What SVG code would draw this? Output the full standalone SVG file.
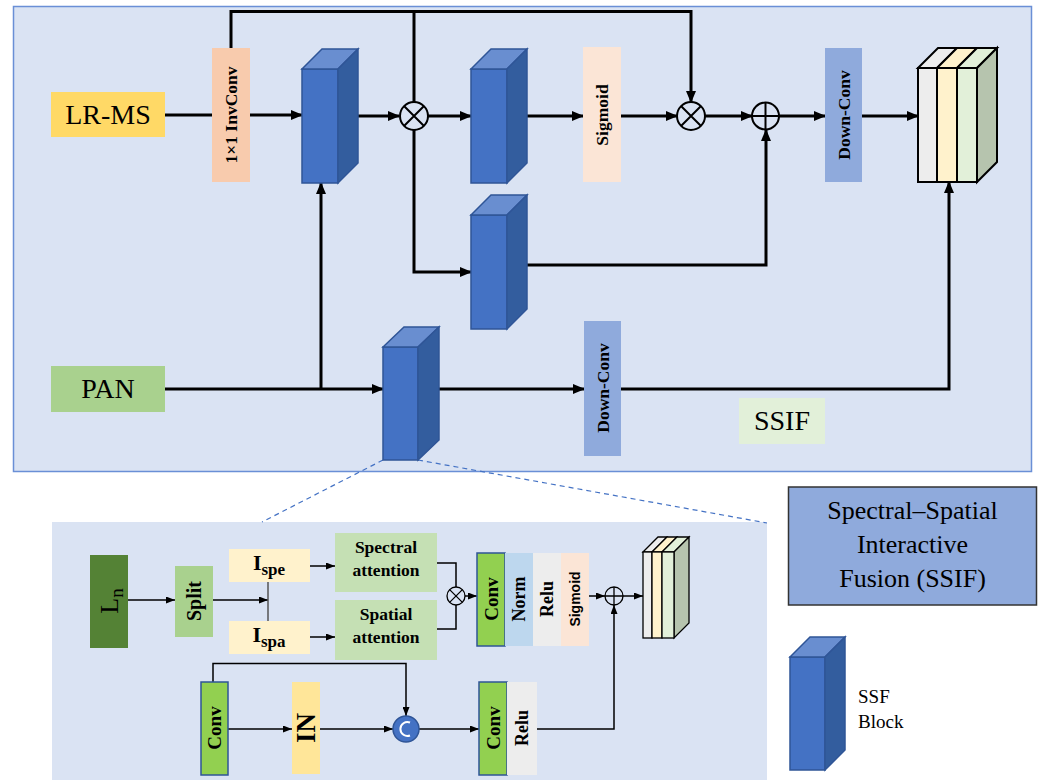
<svg xmlns="http://www.w3.org/2000/svg" width="1046" height="780" viewBox="0 0 1046 780" font-family="'Liberation Serif', 'Times New Roman', serif">
<defs>
<marker id="ah" markerWidth="12" markerHeight="10" refX="11" refY="5" orient="auto" markerUnits="userSpaceOnUse"><path d="M0,0 L12,5 L0,10 Z" fill="#000"/></marker>
<marker id="as" markerWidth="9" markerHeight="7" refX="9" refY="3.5" orient="auto" markerUnits="userSpaceOnUse"><path d="M0,0 L9,3.5 L0,7 Z" fill="#000"/></marker>
<style>
.t{fill:#000}
.b{font-weight:bold}
.rot{text-anchor:middle;dominant-baseline:central}
.fr{fill:#4472C4;stroke:#2F5597;stroke-width:1.5}
.tp{fill:#698ED0;stroke:#2F5597;stroke-width:1.5}
.sd{fill:#335D9E;stroke:#2F5597;stroke-width:1.5}
.thick{fill:none;stroke:#000;stroke-width:3}
.thin{fill:none;stroke:#000;stroke-width:1.5}
.sk{stroke:#000;stroke-width:2}
.sks{stroke:#000;stroke-width:1.3}
</style>
</defs>
<rect width="1046" height="780" fill="#fff"/>
<rect id="ssif-frame" x="13.5" y="6.5" width="1018" height="465" fill="#DAE3F3" stroke="#6A8FD6" stroke-width="1.5"/>
<rect id="ssf-panel" x="52" y="522" width="715" height="260" fill="#DAE3F3"/>
<g id="zoom-lines" stroke="#4472C4" stroke-width="1.2" stroke-dasharray="5,4" fill="none">
<line x1="383" y1="460" x2="262" y2="522"/>
<line x1="418" y1="460" x2="767" y2="523"/>
</g>

<g id="connectors">
<line class="thick" x1="165" y1="115" x2="212" y2="115"/>
<line class="thick" x1="250" y1="115" x2="302" y2="115" marker-end="url(#ah)"/>
<path class="thick" d="M231,48 V11.5 H691 V102" marker-end="url(#ah)"/>
<path class="thick" d="M414,11.5 V102"/>
<path class="thick" d="M414,130 V272 H471" marker-end="url(#ah)"/>
<line class="thick" x1="358" y1="116" x2="399" y2="116" marker-end="url(#ah)"/>
<line class="thick" x1="428" y1="116" x2="471" y2="116" marker-end="url(#ah)"/>
<line class="thick" x1="527" y1="116" x2="583" y2="116" marker-end="url(#ah)"/>
<line class="thick" x1="621" y1="116" x2="677" y2="116" marker-end="url(#ah)"/>
<line class="thick" x1="705" y1="116" x2="752" y2="116" marker-end="url(#ah)"/>
<line class="thick" x1="779" y1="116" x2="825" y2="116" marker-end="url(#ah)"/>
<line class="thick" x1="862" y1="116" x2="918" y2="116" marker-end="url(#ah)"/>
<path class="thick" d="M527,265 H766 V130" marker-end="url(#ah)"/>
<path class="thick" d="M165,389 H383" marker-end="url(#ah)"/>
<path class="thick" d="M321,389 V183" marker-end="url(#ah)"/>
<path class="thick" d="M439,389 H584" marker-end="url(#ah)"/>
<path class="thick" d="M621,389 H949 V182" marker-end="url(#ah)"/>

<line class="thin" x1="128" y1="600" x2="175" y2="600" marker-end="url(#as)"/>
<line class="thin" x1="213" y1="600" x2="268" y2="600" marker-end="url(#as)"/>
<line x1="268" y1="582" x2="268" y2="621" stroke="#555" stroke-width="1.5"/>
<line class="thin" x1="310" y1="566" x2="335" y2="566" marker-end="url(#as)"/>
<line class="thin" x1="310" y1="637" x2="335" y2="637" marker-end="url(#as)"/>
<path class="thin" d="M437,563 H456 V587"/>
<path class="thin" d="M437,629 H456 V605"/>
<line class="thin" x1="465" y1="596" x2="477" y2="596" marker-end="url(#as)"/>
<line class="thin" x1="589" y1="596" x2="605" y2="596" marker-end="url(#as)"/>
<line class="thin" x1="623" y1="596" x2="643" y2="596" marker-end="url(#as)"/>
<path class="thin" d="M213,682 V663.5 H406 V716" marker-end="url(#as)"/>
<line class="thin" x1="228" y1="729" x2="292" y2="729" marker-end="url(#as)"/>
<line class="thin" x1="320" y1="729" x2="393" y2="729" marker-end="url(#as)"/>
<line class="thin" x1="419" y1="729" x2="479" y2="729" marker-end="url(#as)"/>
<path class="thin" d="M537,729 H614 V605" marker-end="url(#as)"/>
</g>

<g id="lrms"><rect x="51" y="92" width="114" height="45" fill="#FFD966"/><text class="t" x="108" y="124" font-size="28" text-anchor="middle">LR-MS</text></g>
<g id="invconv"><rect x="212" y="48" width="38" height="134" fill="#F8CBAD"/><text class="t b rot" transform="translate(231,115) rotate(-90)" font-size="17.5">1×1 InvConv</text></g>
<g id="ssf1"><rect class="fr" x="302" y="69" width="36" height="114"/><polygon class="tp" points="302,69 322,49 358,49 338,69"/><polygon class="sd" points="338,69 358,49 358,163 338,183"/></g>
<g id="mul1"><circle cx="414" cy="116" r="14" fill="#DAE3F3" stroke="#000" stroke-width="2"/><path class="sk" d="M404,106 L424,126 M424,106 L404,126"/></g>
<g id="ssf2"><rect class="fr" x="471" y="69" width="36" height="114"/><polygon class="tp" points="471,69 491,49 527,49 507,69"/><polygon class="sd" points="507,69 527,49 527,163 507,183"/></g>
<g id="ssf3"><rect class="fr" x="471" y="215" width="36" height="114"/><polygon class="tp" points="471,215 491,195 527,195 507,215"/><polygon class="sd" points="507,215 527,195 527,309 507,329"/></g>
<g id="sigmoid1"><rect x="583" y="47" width="38" height="135" fill="#FBE5D6"/><text class="t b rot" transform="translate(602,115) rotate(-90)" font-size="17.5">Sigmoid</text></g>
<g id="mul2"><circle cx="691" cy="116" r="14" fill="#DAE3F3" stroke="#000" stroke-width="2"/><path class="sk" d="M681,106 L701,126 M701,106 L681,126"/></g>
<g id="add1"><circle cx="765.5" cy="116" r="13.5" fill="#DAE3F3" stroke="#000" stroke-width="2"/><path class="sk" d="M752,116 H779 M765.5,102.5 V129.5"/></g>
<g id="downconv1"><rect x="825" y="48" width="37" height="134" fill="#8FAADC"/><text class="t b rot" transform="translate(843.5,115) rotate(-90)" font-size="17.5">Down-Conv</text></g>
<g id="stack1" stroke="#000" stroke-width="2">
<polygon points="918,68 938,48 957,48 937,68" fill="#EDEDED"/>
<polygon points="937,68 957,48 977,48 957,68" fill="#FFF2CC"/>
<polygon points="957,68 977,48 997,48 977,68" fill="#E2F0D9"/>
<polygon points="977,68 997,48 997,162 977,182" fill="#B6C4AE"/>
<rect x="918" y="68" width="19" height="114" fill="#EDEDED"/>
<rect x="937" y="68" width="20" height="114" fill="#FFF2CC"/>
<rect x="957" y="68" width="20" height="114" fill="#E2F0D9"/>
</g>
<g id="pan"><rect x="51" y="366" width="114" height="46" fill="#A9D18E"/><text class="t" x="108" y="398" font-size="28" text-anchor="middle">PAN</text></g>
<g id="ssf4"><rect class="fr" x="383" y="347" width="35" height="113"/><polygon class="tp" points="383,347 404,327 439,327 418,347"/><polygon class="sd" points="418,347 439,327 439,440 418,460"/></g>
<g id="downconv2"><rect x="584" y="321" width="37" height="135" fill="#8FAADC"/><text class="t b rot" transform="translate(602.5,388) rotate(-90)" font-size="17.5">Down-Conv</text></g>
<g id="ssif-label"><rect x="739" y="398" width="86" height="46" fill="#E2F0D9"/><text class="t" x="782" y="430" font-size="28" text-anchor="middle">SSIF</text></g>

<g id="ln"><rect x="90" y="555" width="38" height="93" fill="#548235"/><text class="t rot" transform="translate(109,601) rotate(-90)" font-size="26">L<tspan font-size="19" dy="7">n</tspan></text></g>
<g id="split"><rect x="175" y="566" width="38" height="71" fill="#A9D18E"/><text class="t b rot" transform="translate(194,601) rotate(-90)" font-size="20">Split</text></g>
<g id="ispe"><rect x="229" y="549" width="81" height="33" fill="#FFF2CC"/><text class="t b" x="269" y="570" font-size="22" text-anchor="middle">I<tspan font-size="17" dy="5">spe</tspan></text></g>
<g id="ispa"><rect x="229" y="621" width="81" height="33" fill="#FFF2CC"/><text class="t b" x="269" y="642" font-size="22" text-anchor="middle">I<tspan font-size="17" dy="5">spa</tspan></text></g>
<g id="spectral"><rect x="335" y="533" width="102" height="59" fill="#C5E0B4"/><text class="t b" x="386" y="553" font-size="17.5" text-anchor="middle">Spectral</text><text class="t b" x="386" y="576" font-size="17.5" text-anchor="middle">attention</text></g>
<g id="spatial"><rect x="335" y="600" width="102" height="60" fill="#C5E0B4"/><text class="t b" x="386" y="620" font-size="17.5" text-anchor="middle">Spatial</text><text class="t b" x="386" y="643" font-size="17.5" text-anchor="middle">attention</text></g>
<g id="mul3"><circle cx="456" cy="596" r="9" fill="#DAE3F3" stroke="#000" stroke-width="1.3"/><path class="sks" d="M449.6,589.6 L462.4,602.4 M462.4,589.6 L449.6,602.4"/></g>
<g id="conv1"><rect x="477" y="553" width="28" height="93" fill="#92D050" stroke="#2F5597" stroke-width="1.5"/><text class="t b rot" transform="translate(491,599) rotate(-90)" font-size="19">Conv</text></g>
<g id="norm"><rect x="505" y="553" width="28" height="93" fill="#BDD7EE"/><text class="t b rot" transform="translate(519,599) rotate(-90)" font-size="18">Norm</text></g>
<g id="relu1"><rect x="533" y="553" width="28" height="93" fill="#EDEDED"/><text class="t b rot" transform="translate(547,599) rotate(-90)" font-size="18">Relu</text></g>
<g id="sigmoid2"><rect x="561" y="553" width="28" height="93" fill="#FBE5D6"/><text class="b rot" transform="translate(575,599) rotate(-90)" font-size="14" font-family="'Liberation Sans', Arial, sans-serif">Sigmoid</text></g>
<g id="add2"><circle cx="614" cy="596" r="9" fill="#DAE3F3" stroke="#000" stroke-width="1.3"/><path class="sks" d="M605,596 H623 M614,587 V605"/></g>
<g id="stack2" stroke="#000" stroke-width="1.3">
<polygon points="643,552 658,537 667,537 652,552" fill="#EDEDED"/>
<polygon points="652,552 667,537 677,537 662,552" fill="#FFF2CC"/>
<polygon points="662,552 677,537 689,537 674,552" fill="#E2F0D9"/>
<polygon points="674,552 689,537 689,623 674,638" fill="#B6C4AE"/>
<rect x="643" y="552" width="9" height="86" fill="#EDEDED"/>
<rect x="652" y="552" width="10" height="86" fill="#FFF2CC"/>
<rect x="662" y="552" width="12" height="86" fill="#E2F0D9"/>
</g>
<g id="conv2"><rect x="201" y="682" width="27" height="93" fill="#92D050" stroke="#2F5597" stroke-width="1.5"/><text class="t b rot" transform="translate(214.5,728) rotate(-90)" font-size="19">Conv</text></g>
<g id="in"><rect x="292" y="682" width="28" height="92" fill="#FFE699"/><text class="t b rot" transform="translate(306,728) rotate(-90)" font-size="27">IN</text></g>
<g id="concat"><circle cx="406" cy="729" r="13" fill="#4472C4" stroke="#2F5597" stroke-width="1.5"/><path d="M410,722.5 A7,7 0 1 0 410,735.5" fill="none" stroke="#fff" stroke-width="2"/></g>
<g id="conv3"><rect x="479" y="682" width="28" height="93" fill="#92D050" stroke="#2F5597" stroke-width="1.5"/><text class="t b rot" transform="translate(493,728) rotate(-90)" font-size="19">Conv</text></g>
<g id="relu2"><rect x="507" y="682" width="30" height="93" fill="#EDEDED"/><text class="t b rot" transform="translate(522,728) rotate(-90)" font-size="18">Relu</text></g>

<g id="legend-title"><rect x="788.5" y="487" width="248" height="118" fill="#8FAADC" stroke="#333" stroke-width="1.5"/>
<text class="t" x="912.5" y="519" font-size="26" text-anchor="middle">Spectral–Spatial</text>
<text class="t" x="912.5" y="553" font-size="26" text-anchor="middle">Interactive</text>
<text class="t" x="912.5" y="587" font-size="26" text-anchor="middle">Fusion (SSIF)</text></g>
<g id="legend-ssf"><rect class="fr" x="790" y="657" width="35" height="113"/><polygon class="tp" points="790,657 810,637 845,637 825,657"/><polygon class="sd" points="825,657 845,637 845,750 825,770"/>
<text class="t" x="858" y="703" font-size="19">SSF</text><text class="t" x="858" y="728" font-size="19">Block</text></g>
</svg>
